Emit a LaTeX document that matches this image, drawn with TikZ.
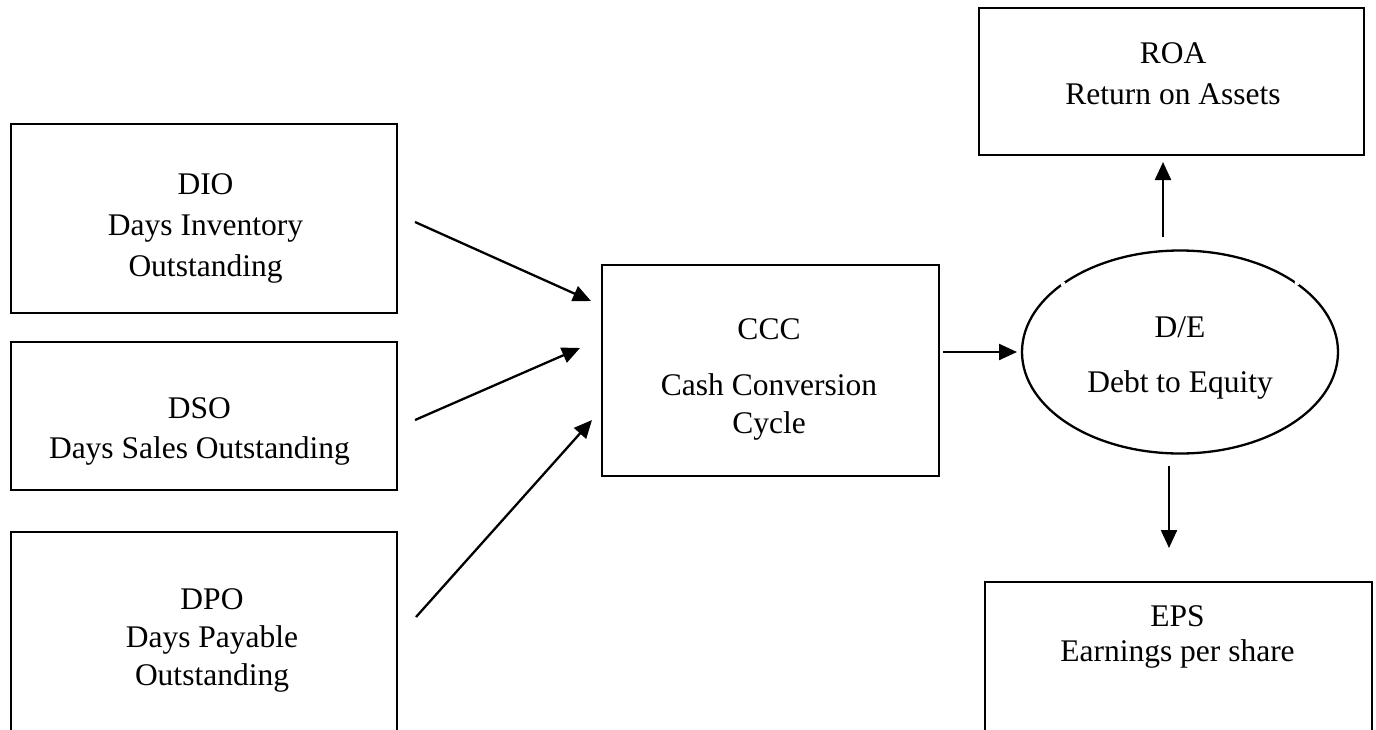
\documentclass[tikz,border=0pt]{standalone}
\usepackage{fontspec}
\setmainfont{Liberation Serif}
\usetikzlibrary{arrows.meta,shapes.geometric}

\begin{document}
\begin{tikzpicture}[x=1pt,y=-1pt,
  box/.style={draw,line width=2.3pt,rectangle,inner sep=0pt},
  oval/.style={draw,line width=2.3pt,ellipse,inner sep=0pt},
  txt/.style={anchor=north,inner sep=0pt,align=center,
              font=\fontsize{31.5pt}{#1}\selectfont},
  txt/.default=40pt,
  flow/.style={line width=2.3pt,-{Triangle[length=18pt,width=16pt]}}]

\useasboundingbox (0,0) rectangle (1376,729);
\clip (0,0) rectangle (1376,729);

% ratio boxes on the left
\node[box,minimum width=386pt,minimum height=189pt] (dio) at (204,218.5) {};
\node[box,minimum width=386pt,minimum height=148pt] (dso) at (204,416) {};
\node[box,minimum width=386pt,minimum height=240pt] (dpo) at (204,652) {};

\node[txt=41pt] (dio-t) at (205.5,173) {DIO\\Days Inventory\\Outstanding};
\node[txt] (dso-t) at (199.5,397) {DSO\\Days Sales Outstanding};
\node[txt=38pt] (dpo-t) at (212,588.5) {DPO\\Days Payable\\Outstanding};

% cash conversion cycle
\node[box,minimum width=337pt,minimum height=211pt] (ccc) at (770.5,370.5) {};
\node[txt=38pt] (ccc-t) at (769,318) {CCC\\[18pt]Cash Conversion\\Cycle};

% debt to equity
\node[oval,minimum width=316pt,minimum height=203pt] (de) at (1180,352) {};
\node[txt=55pt] (de-t) at (1180,317) {D/E\\Debt to Equity};
\fill[white] (1063,284) circle (2.5pt) (1297,283) circle (2.5pt);

% outcome boxes on the right
\node[box,minimum width=385pt,minimum height=147pt] (roa) at (1171.5,81.5) {};
\node[txt=41pt] (roa-t) at (1173,42) {ROA\\Return on Assets};
\node[box,minimum width=387pt,minimum height=240pt] (eps) at (1178.5,702) {};
\node[txt=35pt] (eps-t) at (1177.5,605) {EPS\\Earnings per share};

% arrow end points
\coordinate (dio-o) at (415,222);
\coordinate (dso-o) at (415,420);
\coordinate (dpo-o) at (416,617);
\coordinate (ccc-i1) at (591,301);
\coordinate (ccc-i2) at (580,348);
\coordinate (ccc-i3) at (592,420);
\coordinate (ccc-o) at (943,352);
\coordinate (de-i) at (1017,352);
\coordinate (de-up) at (1163,237);
\coordinate (roa-i) at (1163,162);
\coordinate (de-dn) at (1169,466);
\coordinate (eps-i) at (1169,548);

\draw[flow] (dio-o) -- (ccc-i1);
\draw[flow] (dso-o) -- (ccc-i2);
\draw[flow] (dpo-o) -- (ccc-i3);
\draw[flow] (ccc-o) -- (de-i);
\draw[flow] (de-up) -- (roa-i);
\draw[flow] (de-dn) -- (eps-i);
\end{tikzpicture}
\end{document}
